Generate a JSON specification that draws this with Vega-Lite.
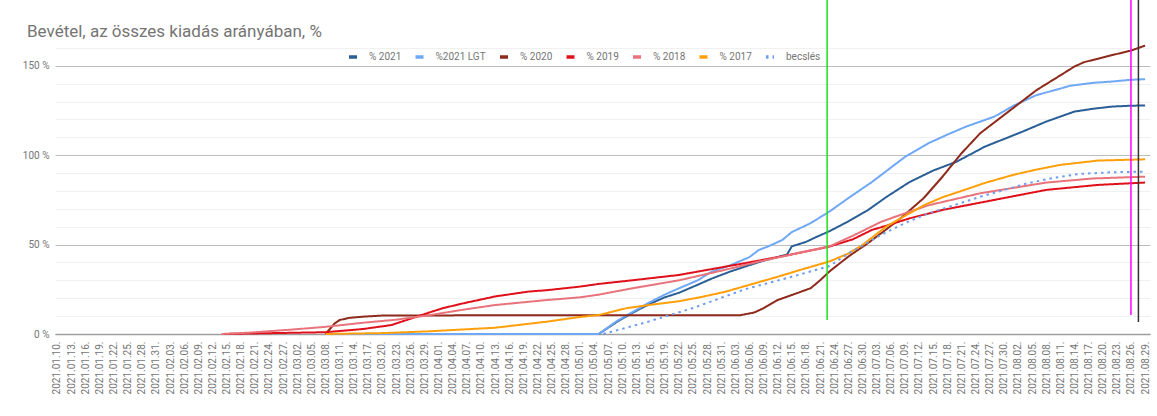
{
  "$schema": "https://vega.github.io/schema/vega-lite/v6.json",
  "width": 1095,
  "height": 295,
  "autosize": {"type": "none"},
  "padding": {"left": 55, "top": 39, "right": 7, "bottom": 82},
  "background": "white",
  "title": {"text": "Bevétel, az összes kiadás arányában, %", "anchor": "start", "frame": "group", "offset": 0, "dx": -28, "dy": 42, "fontSize": 17, "font": "Roboto", "fontWeight": "normal", "color": "#757575"},
  "config": {"view": {"stroke": null}, "font": "Roboto"},
  "datasets": {
    "lines": [
      {"d":"2021/03/08","s":"% 2021","v":0},{"d":"2021/05/05","s":"% 2021","v":0},{"d":"2021/05/09","s":"% 2021","v":7},{"d":"2021/05/13","s":"% 2021","v":13},{"d":"2021/05/16","s":"% 2021","v":17},{"d":"2021/05/19","s":"% 2021","v":20.5},{"d":"2021/05/22","s":"% 2021","v":23},{"d":"2021/05/26","s":"% 2021","v":27.5},{"d":"2021/05/29","s":"% 2021","v":31},{"d":"2021/06/02","s":"% 2021","v":35},{"d":"2021/06/06","s":"% 2021","v":38.5},{"d":"2021/06/09","s":"% 2021","v":41},{"d":"2021/06/12","s":"% 2021","v":43},{"d":"2021/06/14","s":"% 2021","v":44.5},{"d":"2021/06/15","s":"% 2021","v":49},{"d":"2021/06/18","s":"% 2021","v":51.5},{"d":"2021/06/20","s":"% 2021","v":54},{"d":"2021/06/23","s":"% 2021","v":57.5},{"d":"2021/06/27","s":"% 2021","v":63},{"d":"2021/07/01","s":"% 2021","v":69},{"d":"2021/07/05","s":"% 2021","v":76.5},{"d":"2021/07/10","s":"% 2021","v":85},{"d":"2021/07/15","s":"% 2021","v":91.4},{"d":"2021/07/20","s":"% 2021","v":96.4},{"d":"2021/07/26","s":"% 2021","v":104.8},{"d":"2021/07/30","s":"% 2021","v":109},{"d":"2021/08/03","s":"% 2021","v":113.2},{"d":"2021/08/08","s":"% 2021","v":118.8},{"d":"2021/08/14","s":"% 2021","v":124.4},{"d":"2021/08/18","s":"% 2021","v":126},{"d":"2021/08/22","s":"% 2021","v":127.2},{"d":"2021/08/26","s":"% 2021","v":127.7},{"d":"2021/08/29","s":"% 2021","v":127.8},

      {"d":"2021/03/08","s":"%2021 LGT","v":0},{"d":"2021/05/05","s":"%2021 LGT","v":0},{"d":"2021/05/09","s":"%2021 LGT","v":7.5},{"d":"2021/05/13","s":"%2021 LGT","v":13.5},{"d":"2021/05/16","s":"%2021 LGT","v":18},{"d":"2021/05/19","s":"%2021 LGT","v":22},{"d":"2021/05/22","s":"%2021 LGT","v":25.5},{"d":"2021/05/26","s":"%2021 LGT","v":30},{"d":"2021/05/29","s":"%2021 LGT","v":34.9},{"d":"2021/06/02","s":"%2021 LGT","v":38.5},{"d":"2021/06/06","s":"%2021 LGT","v":43},{"d":"2021/06/08","s":"%2021 LGT","v":47},{"d":"2021/06/10","s":"%2021 LGT","v":49},{"d":"2021/06/13","s":"%2021 LGT","v":52.6},{"d":"2021/06/15","s":"%2021 LGT","v":57},{"d":"2021/06/19","s":"%2021 LGT","v":62},{"d":"2021/06/23","s":"%2021 LGT","v":68.5},{"d":"2021/06/27","s":"%2021 LGT","v":76},{"d":"2021/07/02","s":"%2021 LGT","v":85},{"d":"2021/07/05","s":"%2021 LGT","v":91},{"d":"2021/07/09","s":"%2021 LGT","v":99},{"d":"2021/07/14","s":"%2021 LGT","v":106.7},{"d":"2021/07/18","s":"%2021 LGT","v":111.5},{"d":"2021/07/22","s":"%2021 LGT","v":116},{"d":"2021/07/28","s":"%2021 LGT","v":121.6},{"d":"2021/08/01","s":"%2021 LGT","v":127.6},{"d":"2021/08/06","s":"%2021 LGT","v":133.7},{"d":"2021/08/10","s":"%2021 LGT","v":136.5},{"d":"2021/08/13","s":"%2021 LGT","v":138.8},{"d":"2021/08/18","s":"%2021 LGT","v":140.5},{"d":"2021/08/22","s":"%2021 LGT","v":141.2},{"d":"2021/08/26","s":"%2021 LGT","v":142.2},{"d":"2021/08/29","s":"%2021 LGT","v":142.5},

      {"d":"2021/03/08","s":"% 2020","v":0},{"d":"2021/03/09","s":"% 2020","v":3},{"d":"2021/03/10","s":"% 2020","v":6},{"d":"2021/03/11","s":"% 2020","v":7.8},{"d":"2021/03/13","s":"% 2020","v":9},{"d":"2021/03/16","s":"% 2020","v":9.7},{"d":"2021/03/20","s":"% 2020","v":10.3},{"d":"2021/04/15","s":"% 2020","v":10.5},{"d":"2021/06/04","s":"% 2020","v":10.5},{"d":"2021/06/07","s":"% 2020","v":12},{"d":"2021/06/09","s":"% 2020","v":14.4},{"d":"2021/06/12","s":"% 2020","v":19},{"d":"2021/06/15","s":"% 2020","v":21.8},{"d":"2021/06/17","s":"% 2020","v":23.7},{"d":"2021/06/19","s":"% 2020","v":25.6},{"d":"2021/06/21","s":"% 2020","v":30},{"d":"2021/06/23","s":"% 2020","v":35},{"d":"2021/06/27","s":"% 2020","v":43.3},{"d":"2021/07/01","s":"% 2020","v":50.5},{"d":"2021/07/04","s":"% 2020","v":56.4},{"d":"2021/07/08","s":"% 2020","v":64.5},{"d":"2021/07/13","s":"% 2020","v":76},{"d":"2021/07/17","s":"% 2020","v":88},{"d":"2021/07/21","s":"% 2020","v":101},{"d":"2021/07/25","s":"% 2020","v":112.3},{"d":"2021/07/31","s":"% 2020","v":124.4},{"d":"2021/08/06","s":"% 2020","v":136.5},{"d":"2021/08/10","s":"% 2020","v":143},{"d":"2021/08/14","s":"% 2020","v":149.6},{"d":"2021/08/16","s":"% 2020","v":152},{"d":"2021/08/22","s":"% 2020","v":156},{"d":"2021/08/26","s":"% 2020","v":158.5},{"d":"2021/08/29","s":"% 2020","v":161.3},

      {"d":"2021/02/14","s":"% 2019","v":0},{"d":"2021/02/25","s":"% 2019","v":0.5},{"d":"2021/03/08","s":"% 2019","v":1},{"d":"2021/03/16","s":"% 2019","v":2.8},{"d":"2021/03/22","s":"% 2019","v":5},{"d":"2021/03/26","s":"% 2019","v":8.5},{"d":"2021/03/30","s":"% 2019","v":12},{"d":"2021/04/02","s":"% 2019","v":14.5},{"d":"2021/04/06","s":"% 2019","v":17},{"d":"2021/04/13","s":"% 2019","v":21},{"d":"2021/04/20","s":"% 2019","v":23.7},{"d":"2021/04/24","s":"% 2019","v":24.5},{"d":"2021/05/01","s":"% 2019","v":26.5},{"d":"2021/05/05","s":"% 2019","v":28},{"d":"2021/05/12","s":"% 2019","v":30},{"d":"2021/05/22","s":"% 2019","v":33},{"d":"2021/06/05","s":"% 2019","v":39.6},{"d":"2021/06/14","s":"% 2019","v":44},{"d":"2021/06/23","s":"% 2019","v":48.9},{"d":"2021/06/28","s":"% 2019","v":53},{"d":"2021/07/02","s":"% 2019","v":58.2},{"d":"2021/07/05","s":"% 2019","v":60.5},{"d":"2021/07/10","s":"% 2019","v":64.7},{"d":"2021/07/17","s":"% 2019","v":69.4},{"d":"2021/07/28","s":"% 2019","v":75},{"d":"2021/08/08","s":"% 2019","v":80.6},{"d":"2021/08/19","s":"% 2019","v":83.4},{"d":"2021/08/29","s":"% 2019","v":84.7},

      {"d":"2021/02/14","s":"% 2018","v":0},{"d":"2021/02/20","s":"% 2018","v":0.8},{"d":"2021/03/01","s":"% 2018","v":2.5},{"d":"2021/03/08","s":"% 2018","v":4},{"d":"2021/03/16","s":"% 2018","v":6.3},{"d":"2021/03/23","s":"% 2018","v":8},{"d":"2021/03/30","s":"% 2018","v":10.5},{"d":"2021/04/06","s":"% 2018","v":13.5},{"d":"2021/04/13","s":"% 2018","v":16.2},{"d":"2021/04/24","s":"% 2018","v":19},{"d":"2021/05/01","s":"% 2018","v":20.5},{"d":"2021/05/05","s":"% 2018","v":22},{"d":"2021/05/12","s":"% 2018","v":25.5},{"d":"2021/05/22","s":"% 2018","v":30},{"d":"2021/06/01","s":"% 2018","v":36},{"d":"2021/06/08","s":"% 2018","v":40.5},{"d":"2021/06/15","s":"% 2018","v":44.5},{"d":"2021/06/23","s":"% 2018","v":49},{"d":"2021/06/28","s":"% 2018","v":55},{"d":"2021/07/04","s":"% 2018","v":62.8},{"d":"2021/07/09","s":"% 2018","v":67.5},{"d":"2021/07/14","s":"% 2018","v":72},{"d":"2021/07/25","s":"% 2018","v":78.7},{"d":"2021/08/08","s":"% 2018","v":84.7},{"d":"2021/08/18","s":"% 2018","v":87},{"d":"2021/08/29","s":"% 2018","v":88},

      {"d":"2021/03/08","s":"% 2017","v":0},{"d":"2021/03/20","s":"% 2017","v":0.5},{"d":"2021/03/30","s":"% 2017","v":1.5},{"d":"2021/04/13","s":"% 2017","v":3.5},{"d":"2021/04/24","s":"% 2017","v":6.9},{"d":"2021/05/01","s":"% 2017","v":9.5},{"d":"2021/05/05","s":"% 2017","v":10.6},{"d":"2021/05/11","s":"% 2017","v":14.5},{"d":"2021/05/16","s":"% 2017","v":16.3},{"d":"2021/05/22","s":"% 2017","v":18.3},{"d":"2021/05/27","s":"% 2017","v":20.8},{"d":"2021/06/01","s":"% 2017","v":23.7},{"d":"2021/06/06","s":"% 2017","v":27.5},{"d":"2021/06/12","s":"% 2017","v":32},{"d":"2021/06/17","s":"% 2017","v":36},{"d":"2021/06/23","s":"% 2017","v":40.6},{"d":"2021/06/27","s":"% 2017","v":45},{"d":"2021/06/30","s":"% 2017","v":49.8},{"d":"2021/07/05","s":"% 2017","v":60},{"d":"2021/07/09","s":"% 2017","v":66},{"d":"2021/07/13","s":"% 2017","v":72},{"d":"2021/07/17","s":"% 2017","v":76.5},{"d":"2021/07/21","s":"% 2017","v":80},{"d":"2021/07/26","s":"% 2017","v":84.5},{"d":"2021/08/01","s":"% 2017","v":89},{"d":"2021/08/06","s":"% 2017","v":92},{"d":"2021/08/11","s":"% 2017","v":94.6},{"d":"2021/08/19","s":"% 2017","v":97},{"d":"2021/08/29","s":"% 2017","v":97.7},

      {"d":"2021/05/06","s":"becslés","v":0},{"d":"2021/05/15","s":"becslés","v":6.5},{"d":"2021/05/25","s":"becslés","v":14.5},{"d":"2021/06/05","s":"becslés","v":25},{"d":"2021/06/15","s":"becslés","v":32},{"d":"2021/06/23","s":"becslés","v":38},{"d":"2021/06/27","s":"becslés","v":45},{"d":"2021/07/04","s":"becslés","v":55.5},{"d":"2021/07/09","s":"becslés","v":62},{"d":"2021/07/14","s":"becslés","v":67.5},{"d":"2021/07/20","s":"becslés","v":72.5},{"d":"2021/07/25","s":"becslés","v":76.8},{"d":"2021/07/30","s":"becslés","v":80.5},{"d":"2021/08/04","s":"becslés","v":84.3},{"d":"2021/08/10","s":"becslés","v":87.5},{"d":"2021/08/15","s":"becslés","v":89.5},{"d":"2021/08/22","s":"becslés","v":90.5},{"d":"2021/08/29","s":"becslés","v":90.8}
    ]
  },
  "layer": [
    {
      "data": {"name": "lines"},
      "mark": {"type": "line", "strokeWidth": 2},
      "encoding": {
        "x": {
          "field": "d", "type": "temporal",
          "scale": {"domain": [{"year": 2021, "month": 1, "date": 9, "hours": 14}, {"year": 2021, "month": 8, "date": 30, "hours": 1}]},
          "axis": {
            "title": null, "format": "%Y.%m.%d.", "labelAngle": 270, "labelFontSize": 10, "labelColor": "#757575", "labelFont": "Roboto",
            "labelPadding": 7, "ticks": false, "grid": false, "domainColor": "#9e9e9e", "domainWidth": 1.5, "tickCount": 500,
            "labelOverlap": false, "labelFlush": false, "labelBound": false,
            "values": [
              {"year":2021,"month":1,"date":10},{"year":2021,"month":1,"date":13},{"year":2021,"month":1,"date":16},{"year":2021,"month":1,"date":19},{"year":2021,"month":1,"date":22},{"year":2021,"month":1,"date":25},{"year":2021,"month":1,"date":28},{"year":2021,"month":1,"date":31},
              {"year":2021,"month":2,"date":3},{"year":2021,"month":2,"date":6},{"year":2021,"month":2,"date":9},{"year":2021,"month":2,"date":12},{"year":2021,"month":2,"date":15},{"year":2021,"month":2,"date":18},{"year":2021,"month":2,"date":21},{"year":2021,"month":2,"date":24},{"year":2021,"month":2,"date":27},
              {"year":2021,"month":3,"date":2},{"year":2021,"month":3,"date":5},{"year":2021,"month":3,"date":8},{"year":2021,"month":3,"date":11},{"year":2021,"month":3,"date":14},{"year":2021,"month":3,"date":17},{"year":2021,"month":3,"date":20},{"year":2021,"month":3,"date":23},{"year":2021,"month":3,"date":26},{"year":2021,"month":3,"date":29},
              {"year":2021,"month":4,"date":1},{"year":2021,"month":4,"date":4},{"year":2021,"month":4,"date":7},{"year":2021,"month":4,"date":10},{"year":2021,"month":4,"date":13},{"year":2021,"month":4,"date":16},{"year":2021,"month":4,"date":19},{"year":2021,"month":4,"date":22},{"year":2021,"month":4,"date":25},{"year":2021,"month":4,"date":28},
              {"year":2021,"month":5,"date":1},{"year":2021,"month":5,"date":4},{"year":2021,"month":5,"date":7},{"year":2021,"month":5,"date":10},{"year":2021,"month":5,"date":13},{"year":2021,"month":5,"date":16},{"year":2021,"month":5,"date":19},{"year":2021,"month":5,"date":22},{"year":2021,"month":5,"date":25},{"year":2021,"month":5,"date":28},{"year":2021,"month":5,"date":31},
              {"year":2021,"month":6,"date":3},{"year":2021,"month":6,"date":6},{"year":2021,"month":6,"date":9},{"year":2021,"month":6,"date":12},{"year":2021,"month":6,"date":15},{"year":2021,"month":6,"date":18},{"year":2021,"month":6,"date":21},{"year":2021,"month":6,"date":24},{"year":2021,"month":6,"date":27},{"year":2021,"month":6,"date":30},
              {"year":2021,"month":7,"date":3},{"year":2021,"month":7,"date":6},{"year":2021,"month":7,"date":9},{"year":2021,"month":7,"date":12},{"year":2021,"month":7,"date":15},{"year":2021,"month":7,"date":18},{"year":2021,"month":7,"date":21},{"year":2021,"month":7,"date":24},{"year":2021,"month":7,"date":27},{"year":2021,"month":7,"date":30},
              {"year":2021,"month":8,"date":2},{"year":2021,"month":8,"date":5},{"year":2021,"month":8,"date":8},{"year":2021,"month":8,"date":11},{"year":2021,"month":8,"date":14},{"year":2021,"month":8,"date":17},{"year":2021,"month":8,"date":20},{"year":2021,"month":8,"date":23},{"year":2021,"month":8,"date":26},{"year":2021,"month":8,"date":29}
            ]
          }
        },
        "y": {
          "field": "v", "type": "quantitative",
          "scale": {"domain": [0, 165], "nice": false},
          "axis": {
            "title": null, "values": [0,10,20,30,40,50,60,70,80,90,100,110,120,130,140,150,160], "tickCount": 100,
            "grid": true, "gridWidth": 1,
            "gridColor": {"condition": {"test": "datum.value % 50 === 0", "value": "#bdbdbd"}, "value": "#f0f0f0"},
            "ticks": false, "domain": false, "labelOverlap": false,
            "labelExpr": "datum.value % 50 === 0 ? datum.value + ' %' : ''",
            "labelColor": "#757575", "labelFontSize": 10, "labelFont": "Roboto", "labelPadding": 6
          }
        },
        "color": {
          "field": "s", "type": "nominal",
          "scale": {"domain": ["% 2021", "%2021 LGT", "% 2020", "% 2019", "% 2018", "% 2017", "becslés"], "range": ["#2a5f95", "#6fa8f5", "#8e2a1c", "#e0101b", "#e8737b", "#ff9f0a", "#6d9eeb"]},
          "legend": {"orient": "none", "legendX": 292, "legendY": 12, "direction": "horizontal", "columns": 7, "title": null, "symbolType": "stroke", "symbolSize": 64, "symbolStrokeWidth": 3.5, "labelFontSize": 10, "labelColor": "#757575", "labelFont": "Roboto", "labelOffset": 10, "columnPadding": 6.5, "padding": 0}
        },
        "strokeDash": {
          "field": "s", "type": "nominal",
          "scale": {"domain": ["% 2021", "%2021 LGT", "% 2020", "% 2019", "% 2018", "% 2017", "becslés"], "range": [[1, 0], [1, 0], [1, 0], [1, 0], [1, 0], [1, 0], [2.5, 4]]},
          "legend": {"orient": "none", "legendX": 292, "legendY": 12, "direction": "horizontal", "columns": 7, "title": null, "symbolType": "stroke", "symbolSize": 64, "symbolStrokeWidth": 3.5, "labelFontSize": 10, "labelColor": "#757575", "labelFont": "Roboto", "labelOffset": 10, "columnPadding": 6.5, "padding": 0}
        }
      }
    },
    {
      "data": {"values": [{"d": "2021/06/22 12:00", "y1": 7.8, "y2": 187}]},
      "mark": {"type": "rule", "strokeWidth": 1.5, "color": "#1ee01e"},
      "encoding": {"x": {"field": "d", "type": "temporal"}, "y": {"field": "y1", "type": "quantitative"}, "y2": {"field": "y2"}}
    },
    {
      "data": {"values": [{"d": "2021/08/26 00:00", "y1": 10.6, "y2": 187}]},
      "mark": {"type": "rule", "strokeWidth": 1.5, "color": "#ff00ff"},
      "encoding": {"x": {"field": "d", "type": "temporal"}, "y": {"field": "y1", "type": "quantitative"}, "y2": {"field": "y2"}}
    },
    {
      "data": {"values": [{"d": "2021/08/27 14:00", "y1": 6.7, "y2": 187}]},
      "mark": {"type": "rule", "strokeWidth": 1.5, "color": "#333333"},
      "encoding": {"x": {"field": "d", "type": "temporal"}, "y": {"field": "y1", "type": "quantitative"}, "y2": {"field": "y2"}}
    }
  ]
}
